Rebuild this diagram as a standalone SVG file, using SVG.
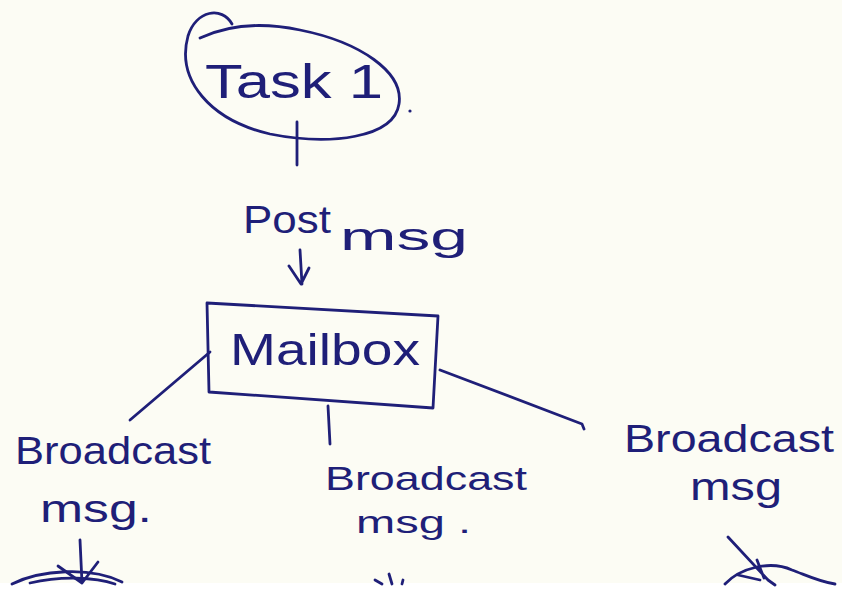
<svg xmlns="http://www.w3.org/2000/svg" width="842" height="595" viewBox="0 0 842 595">
  <style>
    .ink { fill: none; stroke: #1f1f78; stroke-width: 2.8; stroke-linecap: round; stroke-linejoin: round; }
    .hand { font-family: "Liberation Sans", "DejaVu Sans", sans-serif; fill: #1f1f78; }
  </style>
  <!-- paper -->
  <rect x="0" y="0" width="842" height="595" fill="#ffffff"/>
  <rect x="0" y="0" width="842" height="583" fill="#fcfcf4"/>

  <!-- Task 1 -->
  <g id="task1">
    <path class="ink" d="M232,24 C222,6 196,10 188,36 C176,80 210,120 270,134 C330,146 394,138 399,104 C404,72 360,42 300,30 C262,22 230,24 200,38"/>
    <text class="hand" x="205" y="98" font-size="48" textLength="178" lengthAdjust="spacingAndGlyphs">Task 1</text>
    <circle cx="410" cy="111" r="1.6" fill="#1f1f78"/>
  </g>

  <!-- Mailbox -->
  <g id="mailbox">
    <path class="ink" d="M207,303 L438,316 L433,408 L209,392 Z"/>
    <text class="hand" x="230" y="365" font-size="44" textLength="190" lengthAdjust="spacingAndGlyphs">Mailbox</text>
  </g>

  <!-- Labels -->
  <g id="label-post">
    <text class="hand" x="243" y="233" font-size="38" textLength="88" lengthAdjust="spacingAndGlyphs">Post</text>
    <text class="hand" x="340" y="250" font-size="38" textLength="128" lengthAdjust="spacingAndGlyphs">msg</text>
  </g>
  <g id="label-left">
    <text class="hand" x="15" y="464" font-size="38" textLength="196" lengthAdjust="spacingAndGlyphs">Broadcast</text>
    <text class="hand" x="40" y="522" font-size="38" textLength="112" lengthAdjust="spacingAndGlyphs">msg.</text>
  </g>
  <g id="label-middle">
    <text class="hand" x="325" y="490" font-size="34" textLength="202" lengthAdjust="spacingAndGlyphs">Broadcast</text>
    <text class="hand" x="356" y="533" font-size="32" textLength="115" lengthAdjust="spacingAndGlyphs">msg .</text>
  </g>
  <g id="label-right">
    <text class="hand" x="624" y="452" font-size="38" textLength="210" lengthAdjust="spacingAndGlyphs">Broadcast</text>
    <text class="hand" x="690" y="500" font-size="38" textLength="92" lengthAdjust="spacingAndGlyphs">msg</text>
  </g>

  <!-- Receivers at the bottom edge -->
  <g id="receiver-left">
    <path class="ink" d="M12,584 C40,570 90,566 122,582"/>
    <path class="ink" d="M30,583 C60,576 95,577 115,584"/>
  </g>
  <g id="receiver-right">
    <path class="ink" d="M725,584 C740,568 770,560 792,570 C808,576 820,582 835,584"/>
  </g>

  <!-- Connectors -->
  <g id="connectors">
    <line class="ink" x1="297" y1="122" x2="297" y2="165"/>
    <path class="ink" d="M300,250 L302,284 M289,266 L301,284 L309,268"/>
    <line class="ink" x1="210" y1="352" x2="130" y2="420"/>
    <line class="ink" x1="328" y1="406" x2="330" y2="444"/>
    <path class="ink" d="M440,370 L582,424 L584,429"/>
    <path class="ink" d="M80,540 L82,583 M58,566 L82,583 M98,562 L82,583"/>
    <path class="ink" d="M389,574 L392,584 M375,580 L382,584 M403,580 L402,584"/>
    <path class="ink" d="M728,537 L768,580 L775,585 M757,560 L764,578 M738,575 L760,580"/>
  </g>
</svg>
